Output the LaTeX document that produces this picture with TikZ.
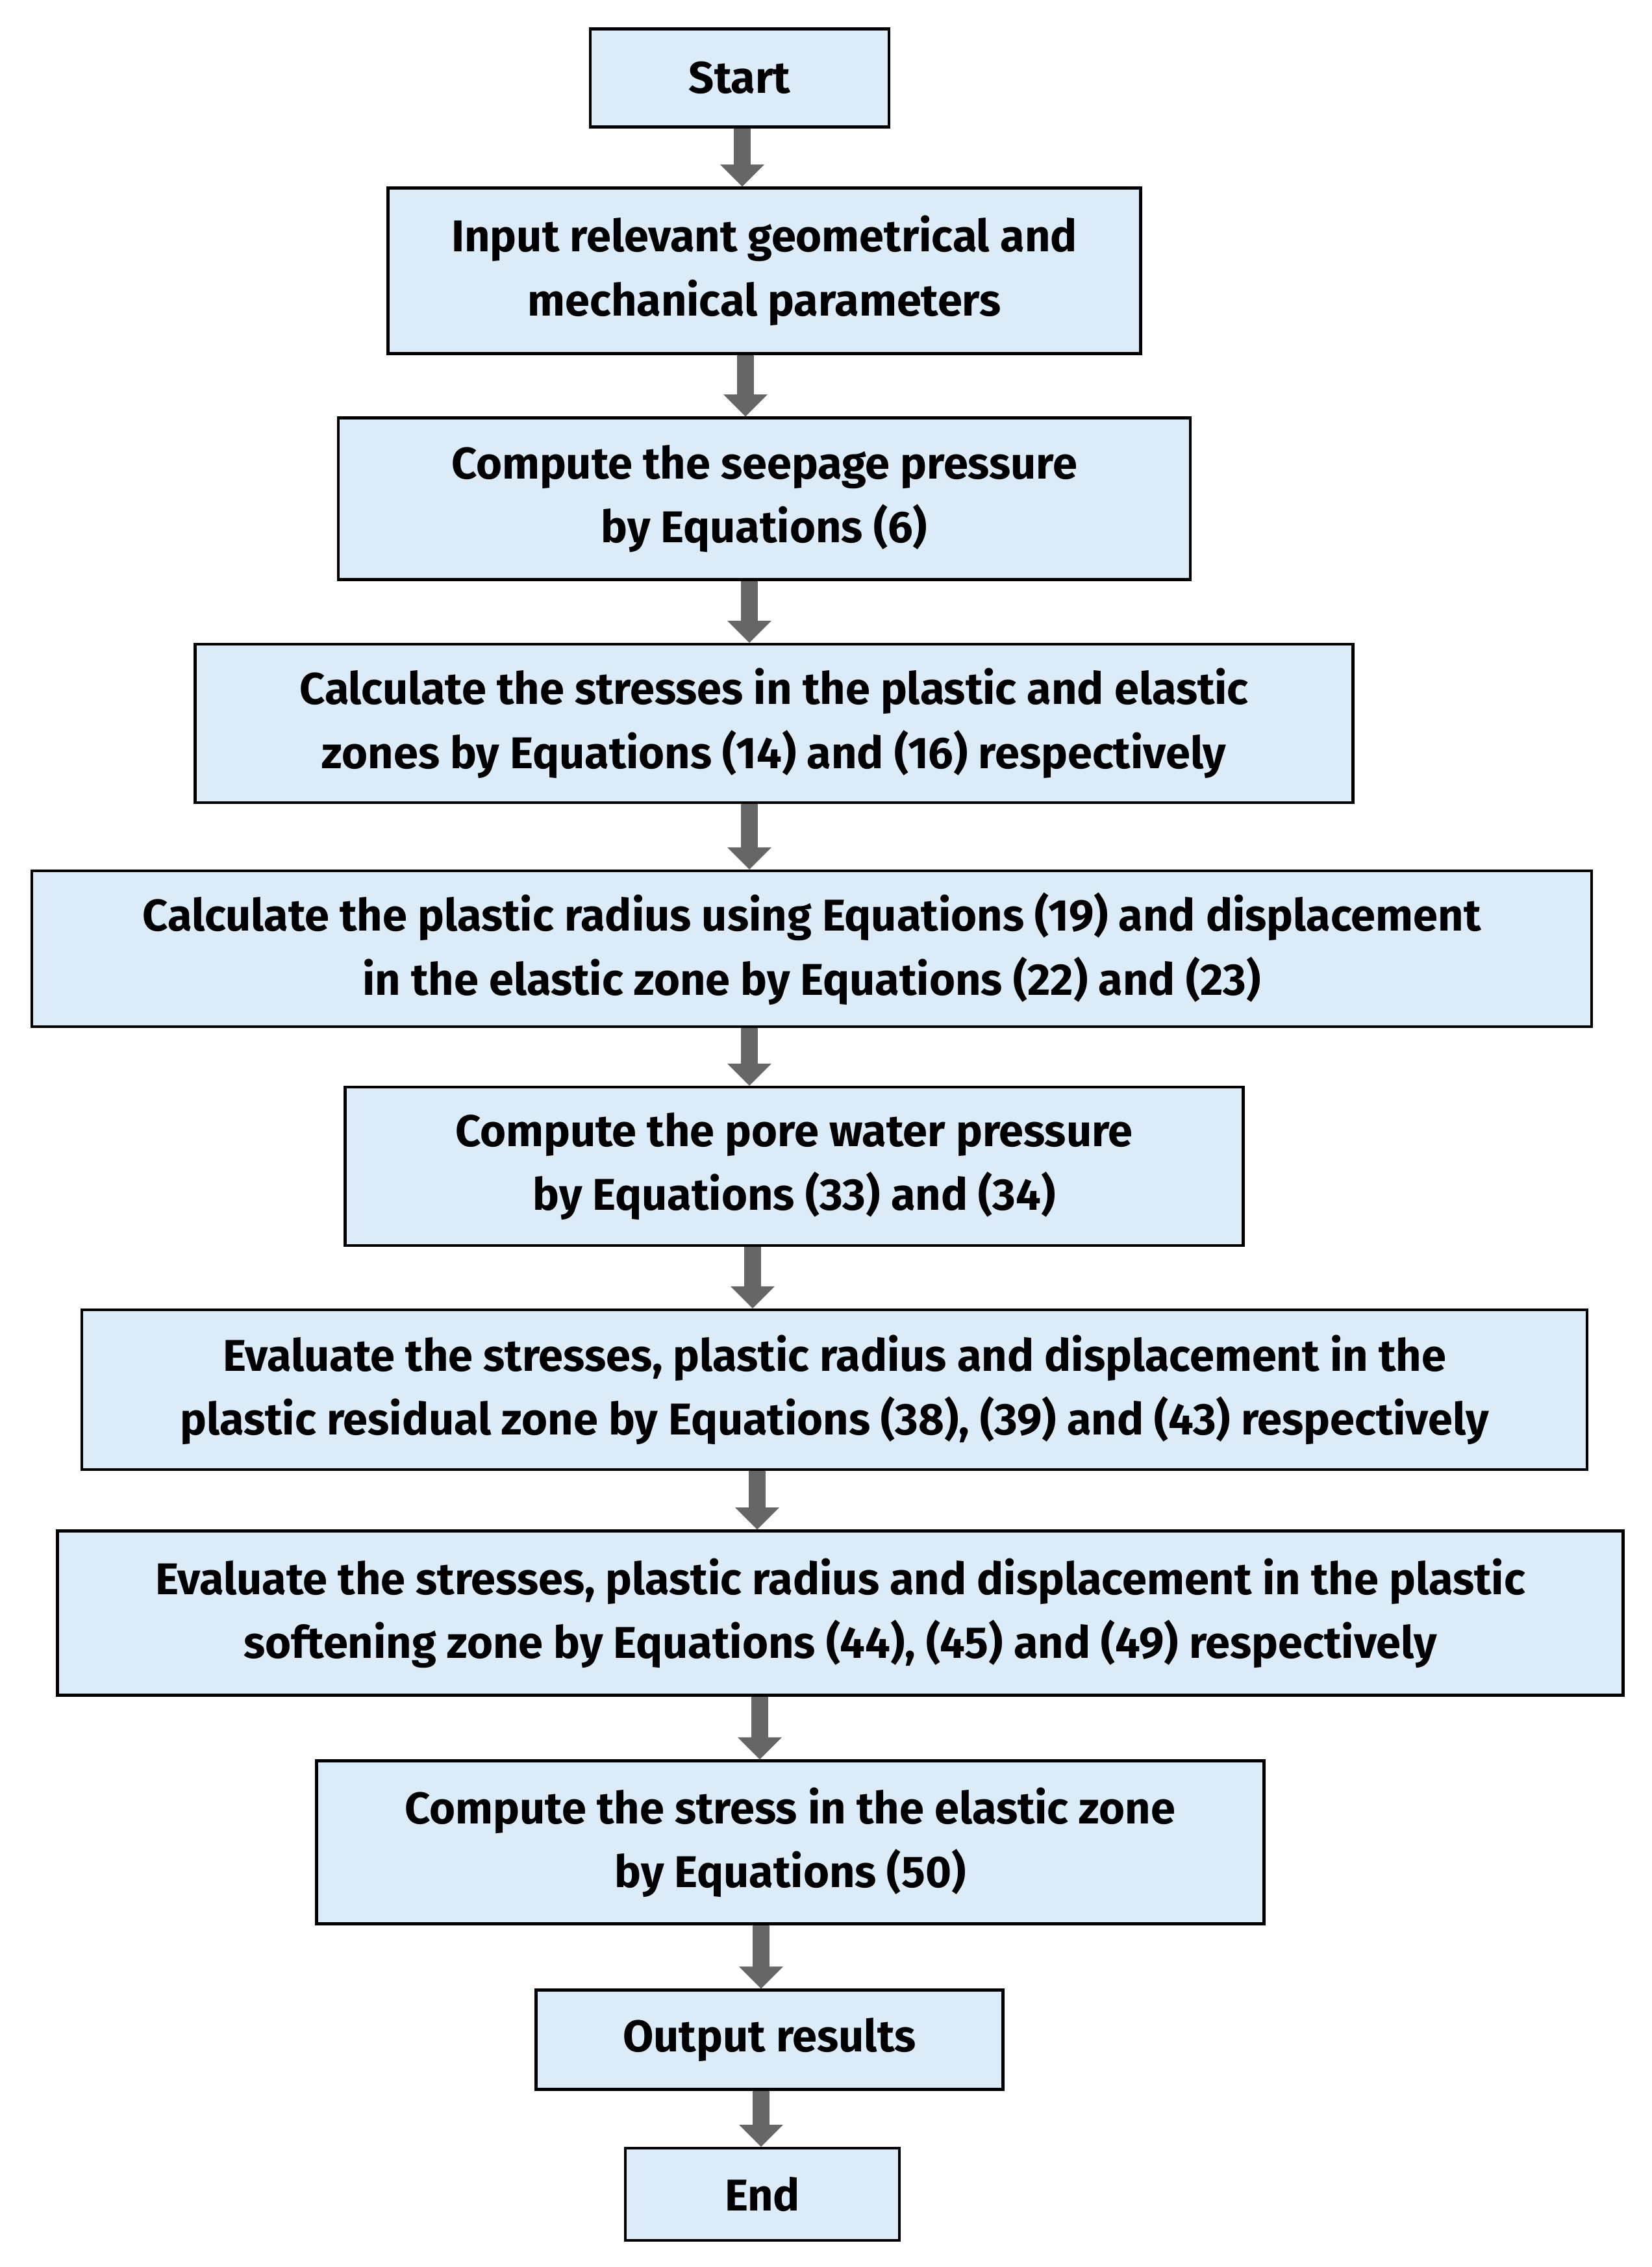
\documentclass[tikz,border=0pt]{standalone}
\usepackage{fontspec}
\setmainfont{Fira Sans}
\usetikzlibrary{arrows.meta}
\tikzset{
  stepbox/.style={draw, line width=1.2pt, fill=stepblue, align=center, font=\fontsize{19.5}{28}\selectfont\bfseries, inner sep=0pt},
  flow/.style={line width=2.6mm, color=black!60, -{Triangle[length=3.4mm, width=6.6mm]}}
}
\definecolor{stepblue}{HTML}{DCEBF8}
\begin{document}
\begin{tikzpicture}
    \useasboundingbox (0,0) rectangle (25.44,-34.91);
    \node [stepbox, minimum width=4.60cm,  minimum height=1.51cm] (start)  at (11.39,-1.20)  {Start};
    \node [stepbox, minimum width=11.59cm, minimum height=2.55cm] (input)  at (11.77,-4.17)  {Input relevant geometrical and\\mechanical parameters};
    \node [stepbox, minimum width=13.12cm, minimum height=2.49cm] (seep)   at (11.77,-7.68)  {Compute the seepage pressure\\by Equations (6)};
    \node [stepbox, minimum width=17.83cm, minimum height=2.44cm] (stress) at (11.92,-11.14) {Calculate the stresses in the plastic and elastic\\zones by Equations (14) and (16) respectively};
    \node [stepbox, minimum width=24.02cm, minimum height=2.40cm] (radius) at (12.50,-14.61) {Calculate the plastic radius using Equations (19) and displacement\\in the elastic zone by Equations (22) and (23)};
    \node [stepbox, minimum width=13.83cm, minimum height=2.44cm] (pore)   at (12.23,-17.96) {Compute the pore water pressure\\by Equations (33) and (34)};
    \node [stepbox, minimum width=23.18cm, minimum height=2.46cm] (resid)  at (12.85,-21.40) {Evaluate the stresses, plastic radius and displacement in the\\plastic residual zone by Equations (38), (39) and (43) respectively};
    \node [stepbox, minimum width=24.11cm, minimum height=2.53cm] (soft)   at (12.94,-24.84) {Evaluate the stresses, plastic radius and displacement in the plastic\\softening zone by Equations (44), (45) and (49) respectively};
    \node [stepbox, minimum width=14.59cm, minimum height=2.51cm] (elast)  at (12.17,-28.37) {Compute the stress in the elastic zone\\by Equations (50)};
    \node [stepbox, minimum width=7.19cm,  minimum height=1.53cm] (output) at (11.85,-31.41) {Output results};
    \node [stepbox, minimum width=4.22cm,  minimum height=1.42cm] (end)    at (11.74,-33.79) {End};

    % arrows between steps
    \foreach \a/\b/\x in {start/input/11.43, input/seep/11.48, seep/stress/11.54, stress/radius/11.54,
                          radius/pore/11.54, pore/resid/11.59, resid/soft/11.66, soft/elast/11.70,
                          elast/output/11.72, output/end/11.72}
        \draw [flow] (\x,0 |- \a.south) -- (\x,0 |- \b.north);
\end{tikzpicture}
\end{document}
